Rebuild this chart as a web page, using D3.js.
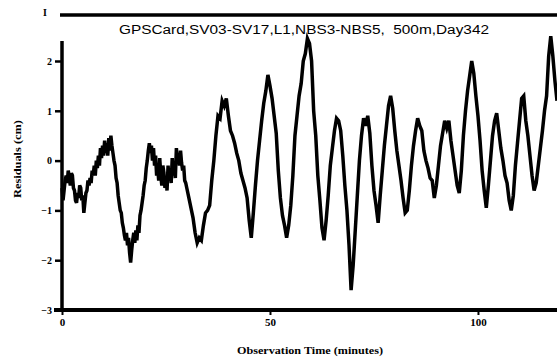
<!DOCTYPE html>
<html>
<head>
<meta charset="utf-8">
<script src="https://cdn.jsdelivr.net/npm/d3@7"></script>
<style>
  body { margin: 0; background: #fff; }
  svg { display: block; }
</style>
</head>
<body>
<script>
// data: time (minutes) and residual (cm)
// first 30 minutes are sampled finer because the trace is very jagged there
const times = [
  0, 0.25, 0.5, 0.75, 1, 1.25, 1.5, 1.75, 2, 2.25, 2.5, 2.75, 3, 3.25, 3.5, 3.75, 4, 4.25, 4.5, 4.75,
  5, 5.25, 5.5, 5.75, 6, 6.25, 6.5, 6.75, 7, 7.25, 7.5, 7.75, 8, 8.25, 8.5, 8.75, 9, 9.25, 9.5, 9.75,
  10, 10.25, 10.5, 10.75, 11, 11.25, 11.5, 11.75, 12, 12.25, 12.5, 12.75, 13, 13.25, 13.5, 13.75, 14, 14.25, 14.5, 14.75,
  15, 15.25, 15.5, 15.75, 16, 16.25, 16.5, 16.75, 17, 17.25, 17.5, 17.75, 18, 18.25, 18.5, 18.75, 19, 19.25, 19.5, 19.75,
  20, 20.25, 20.5, 20.75, 21, 21.25, 21.5, 21.75, 22, 22.25, 22.5, 22.75, 23, 23.25, 23.5, 23.75, 24, 24.25, 24.5, 24.75,
  25, 25.25, 25.5, 25.75, 26, 26.25, 26.5, 26.75, 27, 27.25, 27.5, 27.75, 28, 28.25, 28.5, 28.75, 29, 29.25, 29.5, 29.75,
  30, 30.5, 31, 31.5, 32, 32.5, 33, 33.5, 34, 34.5, 35, 35.5, 36, 36.5, 37, 37.5, 38, 38.5, 39, 39.5,
  40, 40.5, 41, 41.5, 42, 42.5, 43, 43.5, 44, 44.5, 45, 45.5, 46, 46.5, 47, 47.5, 48, 48.5, 49, 49.5,
  50, 50.5, 51, 51.5, 52, 52.5, 53, 53.5, 54, 54.5, 55, 55.5, 56, 56.5, 57, 57.5, 58, 58.5, 59, 59.5,
  60, 60.5, 61, 61.5, 62, 62.5, 63, 63.5, 64, 64.5, 65, 65.5, 66, 66.5, 67, 67.5, 68, 68.5, 69, 69.5,
  70, 70.5, 71, 71.5, 72, 72.5, 73, 73.5, 74, 74.5, 75, 75.5, 76, 76.5, 77, 77.5, 78, 78.5, 79, 79.5,
  80, 80.5, 81, 81.5, 82, 82.5, 83, 83.5, 84, 84.5, 85, 85.5, 86, 86.5, 87, 87.5, 88, 88.5, 89, 89.5,
  90, 90.5, 91, 91.5, 92, 92.5, 93, 93.5, 94, 94.5, 95, 95.5, 96, 96.5, 97, 97.5, 98, 98.5, 99, 99.5,
  100, 100.5, 101, 101.5, 102, 102.5, 103, 103.5, 104, 104.5, 105, 105.5, 106, 106.5, 107, 107.5, 108, 108.5, 109, 109.5,
  110, 110.5, 111, 111.5, 112, 112.5, 113, 113.5, 114, 114.5, 115, 115.5, 116, 116.5, 117, 117.5, 118, 118.5, 119
];
const residuals = [
  -0.55, -0.8, -0.6, -0.4, -0.3, -0.45, -0.2, -0.35, -0.5, -0.25, -0.3, -0.55, -0.6, -0.8, -0.85, -0.65, -0.75, -0.5, -0.55, -0.8,
  -0.7, -1.05, -0.85, -0.65, -0.6, -0.4, -0.5, -0.35, -0.45, -0.2, -0.3, -0.1, -0.3, 0.0, -0.15, 0.1, -0.1, 0.25, 0.05, 0.3,
  0.1, 0.4, 0.15, 0.35, 0.1, 0.45, 0.2, 0.5, 0.3, 0.15, 0.0, -0.1, -0.35, -0.45, -0.7, -0.85, -1.0, -1.05, -1.25, -1.35,
  -1.5, -1.6, -1.45, -1.7, -1.55, -1.85, -2.05, -1.8, -1.6, -1.45, -1.65, -1.4, -1.6, -1.3, -1.45, -1.1, -1.0, -0.85, -0.7, -0.5,
  -0.4, -0.15, 0.0, 0.2, 0.35, 0.15, 0.3, 0.0, 0.25, -0.1, 0.1, -0.3, -0.15, -0.4, 0.05, -0.3, -0.5, -0.1, -0.25, -0.55,
  -0.35, -0.6, -0.1, -0.4, -0.2, -0.45, 0.05, -0.3, -0.1, -0.35, 0.25, 0.0, 0.15, -0.1, 0.2, -0.05, -0.2, -0.1, -0.4, -0.45,
  -0.55, -0.75, -0.95, -1.15, -1.45, -1.65, -1.55, -1.6, -1.3, -1.05, -1.0, -0.9, -0.4, 0.0, 0.5, 0.9, 0.85, 1.2, 1.1, 1.25,
  0.9, 0.6, 0.5, 0.35, 0.15, 0.0, -0.25, -0.4, -0.55, -0.75, -1.2, -1.55, -1.05, -0.5, 0.0, 0.4, 0.8, 1.15, 1.4, 1.72,
  1.5, 1.25, 0.9, 0.55, -0.2, -0.75, -1.1, -1.3, -1.55, -1.3, -0.9, -0.3, 0.5, 0.9, 1.3, 1.55, 2.0, 2.15, 2.45, 2.35,
  2.0, 1.0, 0.5, -0.3, -0.8, -1.35, -1.6, -1.2, -0.7, -0.1, 0.25, 0.6, 0.85, 0.8, 0.6, 0.1, -0.5, -1.0, -1.7, -2.6,
  -2.1, -1.4, -0.7, 0.0, 0.5, 0.85, 0.7, 0.9, 0.55, -0.1, -0.6, -0.9, -1.25, -0.7, -0.2, 0.3, 0.7, 1.1, 1.3, 1.05,
  0.6, 0.2, -0.1, -0.4, -0.75, -1.05, -1.0, -0.6, -0.1, 0.3, 0.6, 0.85, 0.7, 0.6, 0.2, 0.0, -0.15, -0.35, -0.4, -0.75,
  -0.5, -0.1, 0.3, 0.55, 0.8, 0.65, 0.8, 0.4, 0.1, -0.2, -0.5, -0.65, -0.2, 0.5, 1.0, 1.4, 1.7, 2.0, 1.75, 1.3,
  0.9, 0.4, -0.2, -0.6, -0.95, -0.5, 0.0, 0.5, 0.8, 0.95, 0.6, 0.25, 0.0, -0.3, -0.45, -0.8, -1.0, -0.7, -0.1, 0.35,
  0.8, 1.25, 1.3, 0.8, 0.5, 0.1, -0.3, -0.6, -0.45, -0.1, 0.25, 0.6, 1.0, 1.3, 2.1, 2.5, 2.1, 1.6, 1.2
];
const yTicks = [-3, -2, -1, 0, 1, 2];
const xTicks = [0, 50, 100];
const title = "GPSCard,SV03-SV17,L1,NBS3-NBS5,\u00a0\u00a0500m,Day342";

const W = 557, H = 358;
const svg = d3.select("body").append("svg").attr("width", W).attr("height", H);

const x = d3.scaleLinear().domain([0, 119]).range([62, 557]);
const y = d3.scaleLinear().domain([-3, 2]).range([310, 61]);

// top rule and the clipped "1" above the frame
svg.append("line").attr("x1", 60).attr("x2", W).attr("y1", 15).attr("y2", 15)
  .attr("stroke", "#000").attr("stroke-width", 3.5);
svg.append("text").attr("x", 45).attr("y", 16).attr("text-anchor", "middle")
  .style("font", "bold 10px 'Liberation Serif'").text("I");

// title
svg.append("text").attr("x", 304).attr("y", 34).attr("text-anchor", "middle")
  .attr("textLength", 370).attr("lengthAdjust", "spacingAndGlyphs")
  .style("font", "12.5px 'Liberation Sans'").text(title);

// y axis
const yAxis = svg.append("g").attr("transform", "translate(" + x(0) + ",0)")
  .call(d3.axisLeft(y).tickValues(yTicks).tickSize(7).tickSizeOuter(0).tickPadding(3)
    .tickFormat(d3.format("d")));
yAxis.select(".domain").remove();
yAxis.append("line").attr("x1", 0).attr("x2", 0).attr("y1", y(2.4)).attr("y2", y(-3))
  .attr("stroke", "#000").attr("stroke-width", 3.5);
yAxis.selectAll(".tick line").attr("stroke-width", 2.5);
yAxis.selectAll(".tick text").style("font", "bold 10px 'Liberation Serif'").attr("fill", "#000");

// x axis
const xAxis = svg.append("g").attr("transform", "translate(0," + y(-3) + ")")
  .call(d3.axisBottom(x).tickValues(xTicks).tickSize(5).tickSizeOuter(0).tickPadding(3));
xAxis.select(".domain").remove();
xAxis.append("line").attr("x1", x(0) - 8).attr("x2", W).attr("y1", 0).attr("y2", 0)
  .attr("stroke", "#000").attr("stroke-width", 4);
xAxis.selectAll(".tick line").attr("stroke-width", 2);
xAxis.selectAll(".tick text").style("font", "bold 11px 'Liberation Serif'").attr("fill", "#000");

// axis titles
svg.append("text").attr("x", 310).attr("y", 354).attr("text-anchor", "middle")
  .attr("textLength", 146).attr("lengthAdjust", "spacingAndGlyphs")
  .style("font", "bold 10px 'Liberation Serif'").text("Observation Time (minutes)");
svg.append("text").attr("transform", "translate(21,159) rotate(-90)").attr("text-anchor", "middle")
  .attr("textLength", 78).attr("lengthAdjust", "spacingAndGlyphs")
  .style("font", "bold 10px 'Liberation Serif'").text("Residuals (cm)");

// residual series
const pts = times.map((t, i) => [t, residuals[i]]);
svg.append("path").datum(pts)
  .attr("fill", "none").attr("stroke", "#000").attr("stroke-width", 3.5)
  .attr("stroke-linejoin", "miter")
  .attr("d", d3.line().x(d => x(d[0])).y(d => y(d[1])));
</script>
</body>
</html>
